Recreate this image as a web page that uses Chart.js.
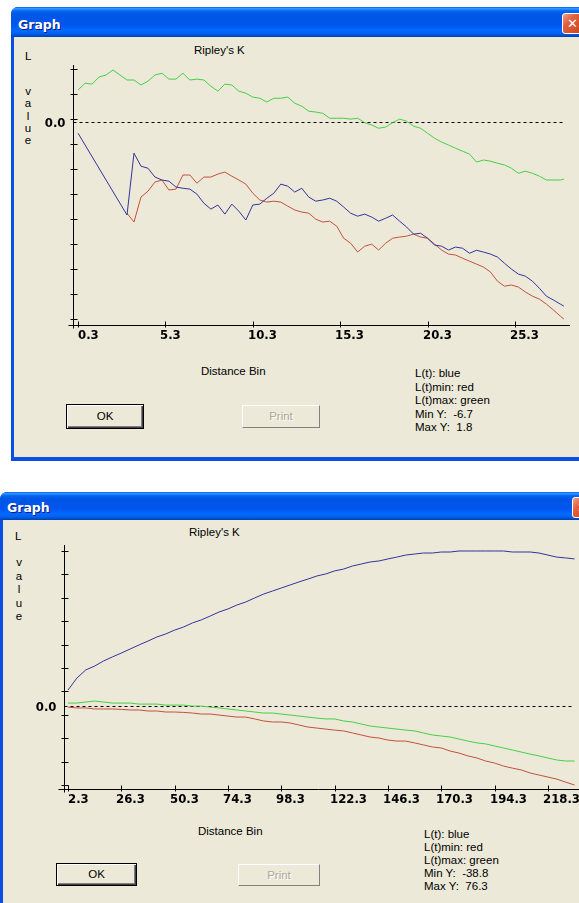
<!DOCTYPE html>
<html>
<head>
<meta charset="utf-8">
<title>Ripley's K</title>
<script src="https://cdn.jsdelivr.net/npm/chart.js@4.4.1/dist/chart.umd.min.js"></script>
<style>
  html, body { margin: 0; padding: 0; }
  body {
    position: relative; width: 579px; height: 903px; overflow: hidden;
    background: #fff; font-family: "Liberation Sans", Arial, sans-serif; font-size: 11.5px; color: #000;
  }
  .abs { position: absolute; white-space: pre; }
  .frame { position: absolute; background: #0a4ee4; border-radius: 7px 7px 0 0; }
  .titlebar {
    position: absolute; left: 0; right: 0; top: 0; border-radius: 7px 7px 0 0;
    background: linear-gradient(to bottom, #0058ee 0%, #3593ff 5%, #1b83ff 9%, #036ffc 12%, #0262ee 16%,
      #0057e5 24%, #0055eb 56%, #005bf5 66%, #026afe 78%, #0062ef 88%, #0052d6 94%, #0040ab 100%);
  }
  .ttl { position: absolute; color: #fff; font: bold 12.5px "DejaVu Sans", sans-serif; text-shadow: 1px 1px #0a1a88; }
  .close {
    position: absolute; width: 19px; height: 19px; border: 1px solid #fff; border-radius: 3px;
    background: linear-gradient(135deg, #f0a08a 0%, #e2603c 35%, #c8441c 100%);
    color: #fff; font: bold 13px "DejaVu Sans", sans-serif; text-align: center; line-height: 19px;
  }
  .client { position: absolute; background: #ece9d8; }
  .vert { position: absolute; width: 12px; text-align: center; white-space: pre; }
  .btn {
    position: absolute; box-sizing: border-box; background: #ece9d8; text-align: center;
    border: 1px solid #000;
    box-shadow: inset 1px 1px #fff, inset -1px -1px #404040, inset -2px -2px #808080;
  }
  .btn.off {
    border: 1px solid #fff; border-right-color: #808080; border-bottom-color: #808080;
    color: #aca899; text-shadow: 1px 1px #fff; box-shadow: none;
  }
  canvas { position: absolute; }
</style>
</head>
<body>

<!-- top dialog -->
<div class="frame" style="left:11px;top:7px;width:600px;height:454px;">
  <div class="titlebar" style="height:30px;"></div>
</div>
<div class="ttl" style="left:18px;top:17px;">Graph</div>
<div class="close" style="left:562px;top:13px;">✕</div>
<div class="client" style="left:14px;top:37px;width:600px;height:420px;"></div>
<div class="abs" style="left:194px;top:44px;">Ripley's K</div>
<div class="abs" style="left:25px;top:50px;">L</div>
<div class="vert" style="left:22px;top:85px;line-height:12.25px;">v
a
l
u
e</div>
<div class="abs" style="left:201px;top:365px;">Distance Bin</div>
<div class="abs" id="legTop" style="left:415px;top:367px;line-height:13.5px;"></div>
<div class="btn" style="left:66px;top:404px;width:78px;height:25px;line-height:23px;">OK</div>
<div class="btn off" style="left:242px;top:405px;width:78px;height:23px;line-height:21px;">Print</div>
<canvas id="chartTop" width="565" height="420" style="left:14px;top:37px;width:565px;height:420px;"></canvas>

<!-- bottom dialog -->
<div class="frame" style="left:0px;top:492px;width:600px;height:430px;">
  <div class="titlebar" style="height:28px;"></div>
</div>
<div class="ttl" style="left:7px;top:500px;">Graph</div>
<div class="close" style="left:572px;top:497px;">✕</div>
<div class="client" style="left:3px;top:520px;width:600px;height:400px;"></div>
<div class="abs" style="left:189px;top:526px;">Ripley's K</div>
<div class="abs" style="left:15px;top:530px;">L</div>
<div class="vert" style="left:13px;top:556px;line-height:13.5px;">v
a
l
u
e</div>
<div class="abs" style="left:198px;top:825px;">Distance Bin</div>
<div class="abs" id="legBot" style="left:424px;top:828px;line-height:13px;"></div>
<div class="btn" style="left:56px;top:863px;width:81px;height:23px;line-height:21px;">OK</div>
<div class="btn off" style="left:238px;top:864px;width:82px;height:22px;line-height:20px;">Print</div>
<canvas id="chartBot" width="576" height="383" style="left:3px;top:520px;width:576px;height:383px;"></canvas>

<script>
"use strict";

// ─── Data: first dialog (short distance range) ────────────────
const topBins = [0.3, 0.7, 1.1, 1.5, 1.9, 2.3, 2.7, 3.1, 3.5, 3.9, 4.3, 4.7, 5.1, 5.5, 5.9, 6.3, 6.7, 7.1, 7.5, 7.9,
  8.3, 8.7, 9.1, 9.5, 9.9, 10.3, 10.7, 11.1, 11.5, 11.9, 12.3, 12.7, 13.1, 13.5, 13.9, 14.3, 14.7, 15.1, 15.5, 15.9,
  16.3, 16.7, 17.1, 17.5, 17.9, 18.3, 18.7, 19.1, 19.5, 19.9, 20.3, 20.7, 21.1, 21.5, 21.9, 22.3, 22.7, 23.1, 23.5, 23.9,
  24.3, 24.7, 25.1, 25.5, 25.9, 26.3, 26.7, 27.1, 27.5, 27.9, 28.1];

const topL = [-0.38, null, null, null, null, null, null, -3.16, -1.06, -1.50,
  -1.57, -1.87, -1.97, -2.01, -2.21, -2.25, -2.28, -2.45, -2.76, -2.96,
  -2.82, -3.13, -2.79, -3.03, -3.33, -2.82, -2.79, -2.59, -2.42, -2.11,
  -2.18, -2.38, -2.25, -2.55, -2.69, -2.65, -2.59, -2.69, -2.89, -3.10,
  -3.20, -3.13, -3.23, -3.37, -3.27, -3.16, -3.37, -3.57, -3.81, -3.78,
  -3.95, -4.18, -4.22, -4.35, -4.25, -4.29, -4.46, -4.36, -4.42, -4.49,
  -4.59, -4.80, -5.00, -5.17, -5.24, -5.41, -5.65, -5.92, -6.05, -6.19, -6.26];

const topLmin = [null, null, null, null, null, null, null, -3.10, -3.40, -2.55,
  -2.35, -2.04, -1.97, -2.31, -2.28, -1.80, -1.80, -2.08, -1.87, -1.87,
  -1.77, -1.70, -1.84, -1.97, -2.11, -2.42, -2.65, -2.72, -2.69, -2.72,
  -2.86, -2.99, -3.06, -3.10, -3.30, -3.40, -3.37, -3.54, -3.95, -4.12,
  -4.42, -4.22, -4.15, -4.35, -4.12, -3.95, -3.91, -3.88, -3.81, -3.91,
  -3.95, -4.15, -4.35, -4.49, -4.52, -4.63, -4.73, -4.83, -4.93, -5.10,
  -5.41, -5.58, -5.54, -5.61, -5.78, -5.92, -6.02, -6.19, -6.39, -6.60, -6.70];

const topLmax = [1.09, 1.32, 1.29, 1.53, 1.60, 1.77, 1.60, 1.43, 1.43, 1.26,
  1.39, 1.60, 1.66, 1.46, 1.46, 1.66, 1.43, 1.46, 1.43, 1.22,
  1.05, 1.29, 1.26, 1.05, 0.98, 0.85, 0.81, 0.68, 0.81, 0.81,
  0.85, 0.64, 0.54, 0.37, 0.34, 0.30, 0.13, 0.13, 0.13, 0.10,
  0.13, -0.02, -0.10, -0.21, -0.17, -0.02, 0.10, 0.03, -0.14, -0.21,
  -0.38, -0.55, -0.68, -0.78, -0.89, -0.99, -1.09, -1.36, -1.29, -1.33,
  -1.40, -1.46, -1.57, -1.74, -1.67, -1.74, -1.84, -1.97, -1.97, -1.97, -1.94];

const topTickLabels = ["0.3", "5.3", "10.3", "15.3", "20.3", "25.3"];
const topMinY = -6.7;
const topMaxY = 1.8;

// ─── Data: second dialog (long distance range) ────────────────
const botBins = [2.3, 6.3, 10.3, 14.3, 18.3, 22.3, 26.3, 30.3, 34.3, 38.3, 42.3, 46.3, 50.3, 54.3, 58.3, 62.3,
  66.3, 70.3, 74.3, 78.3, 82.3, 86.3, 90.3, 94.3, 98.3, 102.3, 106.3, 110.3, 114.3, 118.3, 122.3, 126.3,
  130.3, 134.3, 138.3, 142.3, 146.3, 150.3, 154.3, 158.3, 162.3, 166.3, 170.3, 174.3, 178.3, 182.3,
  186.3, 190.3, 194.3, 198.3, 202.3, 206.3, 210.3, 214.3, 218.3, 222.3, 226.3, 230.3];

const botL = [7.9, 13.8, 17.8, 19.7, 22.2, 24.2, 26.1, 28.1, 30.1, 32.0,
  34.0, 35.5, 37.4, 38.9, 40.9, 42.4, 44.3, 46.3, 47.8, 49.7,
  51.2, 53.2, 55.1, 56.6, 58.1, 59.6, 61.1, 62.5, 64.0, 65.0,
  66.5, 67.4, 68.9, 69.9, 70.9, 71.4, 72.4, 73.3, 74.3, 74.8,
  75.3, 75.3, 75.8, 75.8, 76.3, 76.3, 76.3, 76.3, 76.3, 76.3,
  75.8, 75.8, 75.8, 75.3, 74.3, 73.3, 72.9, 72.4];

const botLmin = [-0.5, -0.9, -0.9, -1.4, -1.4, -1.4, -1.6, -1.9, -1.9, -2.4,
  -2.4, -2.9, -2.9, -3.1, -3.4, -3.9, -3.9, -4.4, -4.9, -5.4,
  -5.4, -6.3, -7.3, -7.8, -7.8, -8.3, -9.3, -10.3, -10.8, -11.3,
  -11.8, -12.2, -13.2, -14.2, -15.2, -15.7, -16.7, -17.2, -17.2, -18.1,
  -19.1, -20.1, -20.6, -22.1, -23.1, -24.5, -25.5, -27.0, -28.0, -29.5,
  -30.5, -31.4, -32.9, -33.9, -34.9, -35.9, -37.4, -38.8];

const botLmax = [1.5, 1.5, 2.0, 2.5, 2.0, 1.5, 1.5, 1.5, 1.0, 1.0,
  1.0, 0.5, 0.5, 0.5, 0.0, 0.0, -0.5, -0.9, -1.4, -1.9,
  -2.4, -2.9, -3.4, -3.4, -3.9, -4.4, -4.9, -5.4, -5.9, -6.3,
  -6.3, -7.3, -7.8, -8.8, -9.8, -10.3, -10.8, -11.3, -11.8, -12.2,
  -13.2, -14.2, -14.7, -15.2, -16.2, -17.2, -18.1, -18.6, -19.6, -20.6,
  -21.6, -22.6, -23.6, -24.5, -25.5, -26.5, -27.0, -27.0];

const botTickLabels = ["2.3", "26.3", "50.3", "74.3", "98.3", "122.3", "146.3", "170.3", "194.3", "218.3"];
const botMinY = -38.8;
const botMaxY = 76.3;

// ─── Styling ──────────────────────────────────────────────────
const BLUE = "#33339c";
const RED = "#c4503c";
const GREEN = "#46cf46";
const TICK_FONT = 'bold 13px "DejaVu Sans Condensed", "DejaVu Sans", sans-serif';

// Old-school dialog axes: crossing tick marks, ten equal divisions on the
// value axis, a dashed zero line and a single "0.0" label beside it.
const winAxes = {
  id: "winAxes",
  beforeDatasetsDraw(chart, args, opts) {
    const { ctx, chartArea: a, scales: { x, y } } = chart;
    const ax = Math.round(a.left) + 0.5;
    const ay = Math.round(a.bottom) + 0.5;
    const zy = Math.round(y.getPixelForValue(0)) + 0.5;
    ctx.save();
    ctx.strokeStyle = "#000";
    ctx.fillStyle = "#000";
    ctx.lineWidth = 1;

    ctx.setLineDash([3, 3]);
    ctx.beginPath();
    ctx.moveTo(ax, zy);
    ctx.lineTo(a.right - 7, zy);
    ctx.stroke();
    ctx.setLineDash([]);

    ctx.beginPath();
    ctx.moveTo(ax, a.top);
    ctx.lineTo(ax, ay + 3);
    ctx.moveTo(ax - opts.xOverhang, ay);
    ctx.lineTo(a.right, ay);
    const step = (opts.maxY - opts.minY) / 10;
    for (let i = 0; i <= 10; i++) {
      const py = Math.round(y.getPixelForValue(opts.maxY - i * step)) + 0.5;
      ctx.moveTo(ax - 3, py);
      ctx.lineTo(ax + 4, py);
    }
    const xs = opts.labels.map(parseFloat);
    xs.forEach((v) => {
      const px = Math.round(x.getPixelForValue(v)) + 0.5;
      ctx.moveTo(px, ay - 4);
      ctx.lineTo(px, ay + 2);
    });
    ctx.stroke();

    ctx.font = TICK_FONT;
    ctx.textBaseline = "alphabetic";
    ctx.textAlign = "left";
    opts.labels.forEach((t, i) => {
      const px = Math.round(x.getPixelForValue(xs[i]));
      ctx.fillText(t, i === 0 ? px : px - 5, ay + 13);
    });
    ctx.textAlign = "right";
    ctx.textBaseline = "middle";
    ctx.fillText("0.0", ax - 8, zy + 1);
    ctx.restore();
  },
};

function series(xs, ys, color) {
  return {
    data: xs.map((x, i) => ({ x, y: ys[i] })),
    borderColor: color,
    borderWidth: 1,
    pointRadius: 0,
    tension: 0,
    spanGaps: true,
  };
}

function ripleyChart(id, xs, L, Lmin, Lmax, labels, minY, maxY, view) {
  return new Chart(document.getElementById(id), {
    type: "line",
    data: {
      // first dataset is painted last, so blue ends up on top
      datasets: [series(xs, L, BLUE), series(xs, Lmin, RED), series(xs, Lmax, GREEN)],
    },
    options: {
      responsive: false,
      animation: false,
      events: [],
      layout: { padding: view.padding },
      plugins: {
        legend: { display: false },
        tooltip: { enabled: false },
        winAxes: { labels, minY, maxY, xOverhang: view.xOverhang },
      },
      scales: {
        x: { type: "linear", display: false, min: view.x[0], max: view.x[1] },
        y: { type: "linear", display: false, min: view.y[0], max: view.y[1] },
      },
    },
    plugins: [winAxes],
  });
}

function legend(id, minY, maxY) {
  document.getElementById(id).textContent =
    `L(t): blue\nL(t)min: red\nL(t)max: green\nMin Y:  ${minY.toFixed(1)}\nMax Y:  ${maxY.toFixed(1)}`;
}

// ─── Boot ─────────────────────────────────────────────────────
ripleyChart("chartTop", topBins, topL, topLmin, topLmax, topTickLabels, topMinY, topMaxY, {
  padding: { left: 59, right: 9, top: 28, bottom: 132 },
  x: [0.01, 28.45],
  y: [-6.9, 1.94],
  xOverhang: 5,
});
ripleyChart("chartBot", botBins, botL, botLmin, botLmax, botTickLabels, botMinY, botMaxY, {
  padding: { left: 61, right: 0, top: 25, bottom: 114 },
  x: [0.5, 232.3],
  y: [-40.77, 79.25],
  xOverhang: 6,
});
legend("legTop", topMinY, topMaxY);
legend("legBot", botMinY, botMaxY);
</script>
</body>
</html>
